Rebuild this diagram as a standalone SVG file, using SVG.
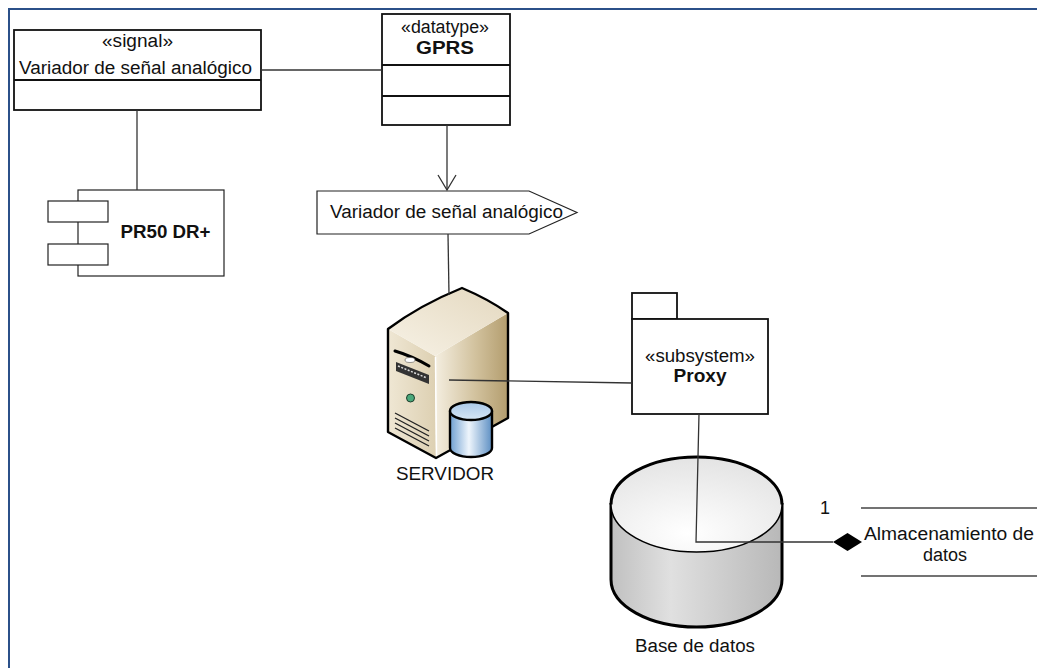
<svg xmlns="http://www.w3.org/2000/svg" width="1037" height="668" viewBox="0 0 1037 668">
  <defs>
    <style>
      .box { fill: #ffffff; stroke: #111111; stroke-width: 1.8; }
      .thin { fill: #ffffff; stroke: #222222; stroke-width: 1.2; }
      .conn { fill: none; stroke: #333333; stroke-width: 1.3; }
      .txt { font-family: "Liberation Sans", Arial, sans-serif; font-size: 18px; fill: #111111; text-anchor: middle; }
      .bold { font-weight: bold; }
      .outline { stroke: #000000; stroke-width: 2.4; stroke-linejoin: round; }
    </style>
    <linearGradient id="srvFront" x1="0" y1="0" x2="1" y2="0">
      <stop offset="0" stop-color="#efe7d4"/>
      <stop offset="1" stop-color="#ddd0b2"/>
    </linearGradient>
    <linearGradient id="srvSide" x1="0" y1="0" x2="1" y2="0">
      <stop offset="0" stop-color="#f4eee0"/>
      <stop offset="0.55" stop-color="#d2c29e"/>
      <stop offset="1" stop-color="#b39d6e"/>
    </linearGradient>
    <linearGradient id="srvTop" x1="0" y1="1" x2="1" y2="0">
      <stop offset="0" stop-color="#f7f2e6"/>
      <stop offset="1" stop-color="#e4d8bf"/>
    </linearGradient>
    <linearGradient id="blueBody" x1="0" y1="0" x2="1" y2="0">
      <stop offset="0" stop-color="#6f9fd0"/>
      <stop offset="0.45" stop-color="#eef5fc"/>
      <stop offset="1" stop-color="#5d8fc3"/>
    </linearGradient>
    <linearGradient id="blueTop" x1="0" y1="0" x2="0" y2="1">
      <stop offset="0" stop-color="#a9c8e8"/>
      <stop offset="1" stop-color="#d6e6f5"/>
    </linearGradient>
    <linearGradient id="dbBody" x1="0" y1="0" x2="1" y2="0">
      <stop offset="0" stop-color="#c0c0c0"/>
      <stop offset="0.35" stop-color="#e0e0e0"/>
      <stop offset="1" stop-color="#b8b8b8"/>
    </linearGradient>
    <radialGradient id="dbTop" cx="0.45" cy="0.8" r="0.85">
      <stop offset="0" stop-color="#ffffff"/>
      <stop offset="1" stop-color="#e2e2e2"/>
    </radialGradient>
  </defs>

  <!-- frame -->
  <g id="frame" fill="none" stroke="#2b5089" stroke-width="2">
    <line x1="8" y1="9" x2="1037" y2="9"/>
    <line x1="9" y1="9" x2="9" y2="668"/>
  </g>

  <!-- signal class -->
  <g id="signal">
    <rect class="box" x="14" y="30" width="247" height="80"/>
    <line class="box" x1="14" y1="80" x2="261" y2="80"/>
    <text class="txt" x="137.5" y="47" textLength="71" lengthAdjust="spacingAndGlyphs">«signal»</text>
    <text class="txt" x="135.5" y="74" textLength="233" lengthAdjust="spacingAndGlyphs">Variador de señal analógico</text>
  </g>

  <!-- GPRS datatype -->
  <g id="gprs">
    <rect class="box" x="382" y="14" width="128" height="111"/>
    <line class="box" x1="382" y1="65" x2="510" y2="65"/>
    <line class="box" x1="382" y1="96" x2="510" y2="96"/>
    <text class="txt" x="445" y="33" textLength="88" lengthAdjust="spacingAndGlyphs">«datatype»</text>
    <text class="txt bold" x="445" y="54" textLength="58" lengthAdjust="spacingAndGlyphs">GPRS</text>
  </g>

  <!-- component -->
  <g id="pr50">
    <rect class="thin" x="78" y="190" width="146" height="86"/>
    <rect class="thin" x="48" y="201" width="60" height="21"/>
    <rect class="thin" x="48" y="244" width="60" height="21"/>
    <text class="txt bold" x="165.5" y="238" textLength="90" lengthAdjust="spacingAndGlyphs">PR50 DR+</text>
  </g>

  <!-- send signal -->
  <g id="send">
    <polygon class="thin" points="317,191 529,191 577,212.5 529,234 317,234"/>
    <text class="txt" x="446.5" y="218" textLength="233" lengthAdjust="spacingAndGlyphs">Variador de señal analógico</text>
  </g>

  <!-- server icon -->
  <g id="servidor">
    <polygon points="388,329 435,356 436,458 388,432" fill="url(#srvFront)"/>
    <polygon points="435,356 508,313 508,418 436,458" fill="url(#srvSide)"/>
    <path d="M388,329 Q420,305 462,288 Q488,299 508,313 L435,356 Z" fill="url(#srvTop)"/>
    <line x1="435.5" y1="357" x2="436.5" y2="456" stroke="#ffffff" stroke-width="1.5"/>
    <path class="outline" fill="none" d="M388,329 Q420,305 462,288 Q488,299 508,313 L508,418 L436,458 L388,432 Z"/>
    <!-- drive bay -->
    <path d="M395,351 Q412,356 429,366" fill="none" stroke="#000" stroke-width="3" stroke-linecap="round"/>
    <ellipse cx="410" cy="360" rx="5" ry="2.5" fill="#ffffff" stroke="#555" stroke-width="0.6"/>
    <polygon points="396,362 429,375 429,384 396,371" fill="#333"/>
    <line x1="398" y1="366" x2="427" y2="378" stroke="#ddd" stroke-width="1.5" stroke-dasharray="2,1.5"/>
    <circle cx="410.5" cy="398" r="4" fill="#4aa87a" stroke="#1d3d2c" stroke-width="1"/>
    <g stroke="#222" stroke-width="1.4">
      <line x1="395" y1="413" x2="429" y2="431"/>
      <line x1="395" y1="418" x2="429" y2="436"/>
      <line x1="395" y1="423" x2="429" y2="441"/>
      <line x1="395" y1="428" x2="429" y2="446"/>
    </g>
    <!-- small database -->
    <path d="M450,411 L450,448 A21,9 0 0 0 492,448 L492,411 Z" fill="url(#blueBody)" class="outline"/>
    <ellipse cx="471" cy="411" rx="21" ry="9" fill="url(#blueTop)" class="outline"/>
    <text class="txt" x="445" y="480" textLength="98" lengthAdjust="spacingAndGlyphs">SERVIDOR</text>
  </g>

  <!-- proxy subsystem -->
  <g id="proxy">
    <rect class="box" x="632" y="293" width="45" height="26"/>
    <rect class="box" x="632" y="319" width="136" height="95"/>
    <text class="txt" x="700" y="362" textLength="110" lengthAdjust="spacingAndGlyphs">«subsystem»</text>
    <text class="txt bold" x="700" y="382" textLength="53" lengthAdjust="spacingAndGlyphs">Proxy</text>
  </g>

  <!-- database -->
  <g id="basedatos">
    <path d="M611,504.5 L611,579.5 A85.5,47.5 0 0 0 782,579.5 L782,504.5 Z" fill="url(#dbBody)" stroke="#000" stroke-width="3"/>
    <ellipse cx="696.5" cy="504.5" rx="85.5" ry="47.5" fill="url(#dbTop)" stroke="#000" stroke-width="1.5"/>
    <path d="M611,504.5 A85.5,47.5 0 0 1 782,504.5" fill="none" stroke="#000" stroke-width="3"/>
    <text class="txt" x="695" y="652" textLength="120" lengthAdjust="spacingAndGlyphs">Base de datos</text>
  </g>

  <!-- storage -->
  <g id="almacenamiento">
    <line x1="861" y1="508" x2="1037" y2="508" stroke="#444" stroke-width="1.3"/>
    <line x1="861" y1="576" x2="1037" y2="576" stroke="#444" stroke-width="1.3"/>
    <text class="txt" x="949" y="540" textLength="170" lengthAdjust="spacingAndGlyphs">Almacenamiento de</text>
    <text class="txt" x="945" y="561">datos</text>
  </g>

  <!-- connectors -->
  <g id="connectors">
    <line class="conn" x1="261" y1="70" x2="382" y2="70"/>
    <line class="conn" x1="137" y1="110" x2="137" y2="190"/>
    <line class="conn" x1="447" y1="125" x2="447" y2="190"/>
    <polyline class="conn" points="438,175 447,190 456,175" stroke="#000" stroke-width="1.5"/>
    <line class="conn" x1="448" y1="234" x2="449" y2="295"/>
    <line class="conn" x1="449" y1="380" x2="632" y2="383"/>
    <polyline class="conn" points="699,414 696,542 833,542"/>
    <polygon points="833,542 847.5,533 862,542 847.5,551" fill="#000"/>
    <text class="txt" x="825" y="514">1</text>
  </g>
</svg>
